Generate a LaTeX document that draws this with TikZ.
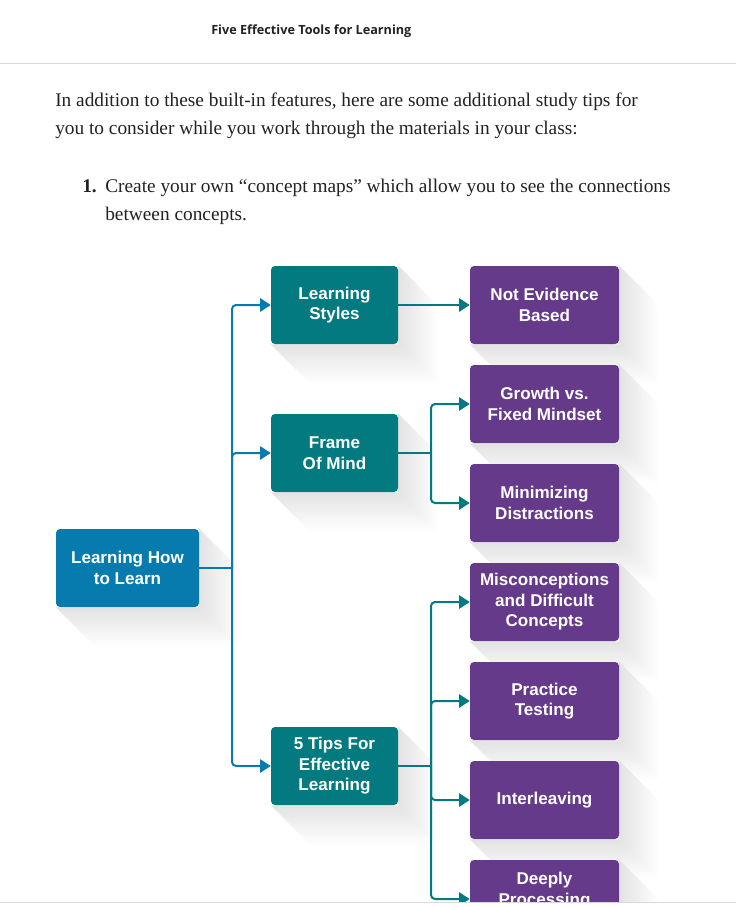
\documentclass[tikz,border=0pt]{standalone}
\usepackage{fontspec}
\setmainfont{Liberation Serif}
\newfontfamily\boxfont{Liberation Sans}
\newfontfamily\headfont{Open Sans}
\usetikzlibrary{positioning}
\usetikzlibrary{arrows.meta,backgrounds,calc}

\definecolor{rootblue}{RGB}{8,123,174}
\definecolor{topicteal}{RGB}{3,122,128}
\definecolor{leafpurple}{RGB}{101,58,139}
\definecolor{rulegray}{RGB}{217,217,217}
\definecolor{inkgray}{RGB}{34,34,34}

\begin{document}
\begin{tikzpicture}
    [x=0.75pt, y=-0.75pt,
    rootbox/.style={fill=rootblue, rounded corners=3pt, text=white, align=center,
        font=\boxfont\bfseries\fontsize{12.8}{15.4}\selectfont,
        minimum width=107.25pt, minimum height=58.5pt, inner sep=0pt},
    topicbox/.style={rootbox, fill=topicteal, minimum width=95.25pt},
    leafbox/.style={rootbox, fill=leafpurple, minimum width=111.75pt},
    bluelink/.style={draw=rootblue, line width=1.5pt, rounded corners=3pt},
    teallink/.style={draw=topicteal, line width=1.5pt, rounded corners=3pt},
    tip/.style={-{Triangle[length=8pt,width=10pt]}},
    rightshade/.style={left color=black!11, right color=white},
    lowshade/.style={top color=black!11, bottom color=white},
    bodytext/.style={anchor=base west, inner sep=0pt, text=inkgray,
        font=\fontsize{14.5}{21}\selectfont}]

    \useasboundingbox (0,0) rectangle (736,907);

    % page header
    \node[anchor=base west, inner sep=0pt, text=inkgray,
        font=\headfont\bfseries\fontsize{9.5}{11}\selectfont] (title) at (211,34) {Five Effective Tools for Learning};
    \draw [rulegray, line width=0.75pt] (0,63) -- (736,63);

    \node[bodytext] (introa) at (55,106) {In addition to these built-in features, here are some additional study tips for};
    \node[bodytext] (introb) at (55,134) {you to consider while you work through the materials in your class:};
    \node[bodytext] (itemnum) at (82,192) {\textbf{1.}};
    \node[bodytext] (itema) at (105,192) {Create your own “concept maps” which allow you to see the connections};
    \node[bodytext] (itemb) at (105,220) {between concepts.};

    \begin{scope}
    \clip (0,0) rectangle (736,901);

    \node[rootbox] (learnhow) at (127.5,568) {Learning How\\to Learn};

    \node[topicbox] (styles) at (334.5,305) {Learning\\Styles};
    \node[topicbox] (frame) at (334.5,453) {Frame\\Of Mind};
    \node[topicbox] (tips) at (334.5,766) {5 Tips For\\Effective\\Learning};

    \node[leafbox] (notevidence) at (544.5,305) {Not Evidence\\Based};
    \node[leafbox] (growth) at (544.5,404) {Growth vs.\\Fixed Mindset};
    \node[leafbox] (minimizing) at (544.5,503) {Minimizing\\Distractions};
    \node[leafbox] (misconceptions) at (544.5,602) {Misconceptions\\and Difficult\\Concepts};
    \node[leafbox] (practice) at (544.5,701) {Practice\\Testing};
    \node[leafbox] (interleaving) at (544.5,800) {Interleaving};
    \node[leafbox] (deeply) at (544.5,899) {Deeply\\Processing\\~};

    % forks
    \coordinate (rootfork) at (232,568);
    \coordinate (framefork) at (431,453);
    \coordinate (tipsfork) at (431,766);

    \draw [bluelink] (learnhow.east) -- (rootfork);
    \draw [bluelink, tip] (rootfork) |- (styles.west);
    \draw [bluelink, tip] (rootfork) |- (frame.west);
    \draw [bluelink, tip] (rootfork) |- (tips.west);

    \draw [teallink, tip] (styles.east) -- (notevidence.west);

    \draw [teallink] (frame.east) -- (framefork);
    \draw [teallink, tip] (framefork) |- (growth.west);
    \draw [teallink, tip] (framefork) |- (minimizing.west);

    \draw [teallink] (tips.east) -- (tipsfork);
    \draw [teallink, tip] (tipsfork) |- (misconceptions.west);
    \draw [teallink, tip] (tipsfork) |- (practice.west);
    \draw [teallink, tip] (tipsfork) |- (interleaving.west);
    \draw [teallink, tip] (tipsfork) |- (deeply.west);
    \end{scope}

    % long shadows
    \begin{scope}[on background layer]
    \clip (0,0) rectangle (736,901);
    \foreach \b in {learnhow,styles,frame,tips,notevidence,growth,minimizing,misconceptions,practice,interleaving,deeply}{
        \shade[rightshade] (\b.north east) -- ++(40,40) -- ($(\b.south east)+(40,40)$) -- (\b.south east) -- cycle;
        \shade[lowshade] (\b.south west) -- (\b.south east) -- ++(40,40) -- ($(\b.south west)+(40,40)$) -- cycle;
    }
    \end{scope}

    \draw [rulegray, line width=0.75pt] (0,902) -- (736,902);
\end{tikzpicture}
\end{document}
